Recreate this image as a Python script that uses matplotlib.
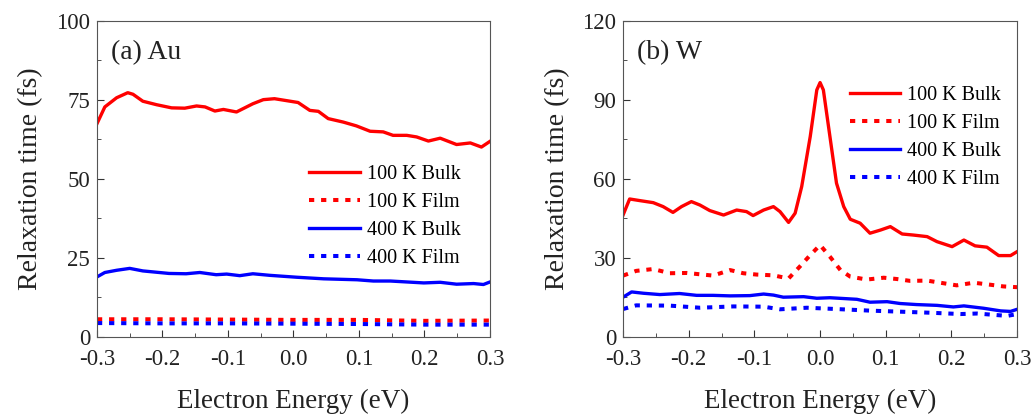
import numpy as np
import matplotlib.pyplot as plt
from matplotlib.ticker import MultipleLocator

plt.rcParams['font.family'] = ['Liberation Serif', 'DejaVu Serif']
plt.rcParams['mathtext.fontset'] = 'stix'

# ---- (a) Au ----
au_bulk100_e = [-0.3, -0.288, -0.27, -0.253, -0.245, -0.23, -0.209, -0.186, -0.166, -0.148, -0.135,
                -0.12, -0.107, -0.087, -0.062, -0.046, -0.029, -0.011, 0.007, 0.025, 0.038, 0.053,
                0.076, 0.096, 0.117, 0.137, 0.152, 0.173, 0.188, 0.206, 0.224, 0.249, 0.27, 0.287, 0.3]
au_bulk100 = [67.5, 72.8, 75.7, 77.3, 76.8, 74.6, 73.5, 72.5, 72.4, 73.1, 72.8,
              71.5, 72.0, 71.2, 73.8, 75.1, 75.4, 74.8, 74.2, 71.7, 71.4, 69.1,
              68.0, 66.8, 65.1, 64.9, 63.8, 63.8, 63.3, 62.0, 62.9, 60.9, 61.4, 60.1, 61.9]

au_bulk400_e = [-0.3, -0.288, -0.27, -0.25, -0.23, -0.19, -0.164, -0.143, -0.118, -0.102, -0.082,
                -0.062, -0.036, 0.005, 0.046, 0.097, 0.122, 0.148, 0.199, 0.224, 0.249, 0.275, 0.29, 0.3]
au_bulk400 = [19.0, 20.4, 21.1, 21.7, 20.9, 20.1, 20.0, 20.4, 19.7, 19.9, 19.4,
              20.0, 19.5, 18.9, 18.4, 18.1, 17.7, 17.7, 17.1, 17.3, 16.7, 16.9, 16.6, 17.4]

au_film_e = [-0.3, -0.2, -0.1, 0.0, 0.1, 0.2, 0.3]
au_film100 = [5.6, 5.6, 5.5, 5.4, 5.4, 5.1, 5.2]
au_film400 = [4.4, 4.3, 4.3, 4.2, 4.1, 3.9, 3.9]

# ---- (b) W ----
w_bulk100_e = [-0.3, -0.29, -0.275, -0.254, -0.239, -0.224, -0.211, -0.196, -0.183, -0.168, -0.147,
               -0.127, -0.112, -0.102, -0.086, -0.071, -0.061, -0.048, -0.038, -0.028, -0.015, -0.005,
               0.0, 0.005, 0.015, 0.025, 0.036, 0.046, 0.061, 0.076, 0.092, 0.107, 0.125, 0.142,
               0.163, 0.178, 0.201, 0.219, 0.236, 0.254, 0.272, 0.29, 0.3]
w_bulk100 = [46.3, 52.4, 51.8, 51.0, 49.5, 47.3, 49.5, 51.4, 50.1, 48.0, 46.3,
             48.2, 47.6, 46.1, 48.2, 49.5, 47.6, 43.5, 47.0, 57.1, 76.1, 93.8,
             96.6, 93.8, 76.1, 58.4, 49.5, 44.7, 43.2, 39.4, 40.6, 41.9, 39.1, 38.7,
             38.1, 36.2, 34.3, 36.8, 34.6, 34.1, 30.9, 30.9, 32.4]

w_film100_e = [-0.3, -0.28, -0.254, -0.229, -0.203, -0.183, -0.163, -0.137, -0.117, -0.097, -0.071,
               -0.048, -0.031, -0.015, 0.0, 0.015, 0.031, 0.046, 0.071, 0.097, 0.117, 0.137,
               0.163, 0.188, 0.208, 0.234, 0.254, 0.279, 0.3]
w_film100 = [23.3, 25.1, 25.8, 24.2, 24.3, 23.8, 23.3, 25.4, 24.2, 23.7, 23.4,
             22.2, 26.7, 31.1, 34.9, 30.5, 25.4, 22.9, 21.8, 22.5, 22.0, 21.3,
             21.4, 20.4, 19.6, 20.6, 20.0, 19.2, 18.9]

w_bulk400_e = [-0.3, -0.287, -0.269, -0.244, -0.214, -0.188, -0.163, -0.137, -0.107, -0.086, -0.071,
               -0.056, -0.025, -0.005, 0.015, 0.056, 0.076, 0.102, 0.122, 0.147, 0.178, 0.203,
               0.219, 0.249, 0.275, 0.29, 0.3]
w_bulk400 = [15.1, 17.1, 16.6, 16.1, 16.5, 15.8, 15.8, 15.6, 15.7, 16.3, 15.9,
             15.1, 15.3, 14.7, 14.9, 14.3, 13.2, 13.4, 12.7, 12.3, 12.0, 11.4,
             11.8, 10.9, 9.9, 9.7, 10.5]

w_film400_e = [-0.3, -0.28, -0.229, -0.183, -0.132, -0.086, -0.061, -0.02, 0.025, 0.076, 0.122,
               0.168, 0.214, 0.239, 0.285, 0.3]
w_film400 = [10.6, 12.0, 11.9, 11.1, 11.6, 11.5, 10.5, 11.1, 10.6, 10.0, 9.6,
             9.2, 8.7, 8.9, 8.0, 8.7]

labels = ['100 K Bulk', '100 K Film', '400 K Bulk', '400 K Film']

fig = plt.figure(figsize=(10.35, 4.16), dpi=100)
ax1 = fig.add_axes([0.0937, 0.19, 0.3797, 0.7596])
ax2 = fig.add_axes([0.602, 0.19, 0.3807, 0.7596])

lw = 2.4
flw = 2.9
dot = (0, (1.3, 1.7))

ax1.plot(au_bulk100_e, au_bulk100, color='red', lw=lw, label=labels[0])
ax1.plot(au_film_e, au_film100, color='red', lw=flw, ls=dot, label=labels[1])
ax1.plot(au_bulk400_e, au_bulk400, color='blue', lw=lw, label=labels[2])
ax1.plot(au_film_e, au_film400, color='blue', lw=flw, ls=dot, label=labels[3])

ax2.plot(w_bulk100_e, w_bulk100, color='red', lw=lw, label=labels[0])
ax2.plot(w_film100_e, w_film100, color='red', lw=flw, ls=dot, label=labels[1])
ax2.plot(w_bulk400_e, w_bulk400, color='blue', lw=lw, label=labels[2])
ax2.plot(w_film400_e, w_film400, color='blue', lw=flw, ls=dot, label=labels[3])

ax1.set_ylim(0, 100)
ax1.yaxis.set_major_locator(MultipleLocator(25))
ax1.yaxis.set_minor_locator(MultipleLocator(12.5))
ax2.set_ylim(0, 120)
ax2.yaxis.set_major_locator(MultipleLocator(30))
ax2.yaxis.set_minor_locator(MultipleLocator(15))

for ax in (ax1, ax2):
    ax.set_xlim(-0.3, 0.3)
    ax.xaxis.set_major_locator(MultipleLocator(0.1))
    ax.xaxis.set_minor_locator(MultipleLocator(0.05))
    ax.tick_params(which='both', direction='in', top=False, right=False, labelsize=16.5,
                   color='#333333', labelcolor='#222222')
    ax.tick_params(which='major', length=5)
    ax.tick_params(which='minor', length=3)
    ax.tick_params(axis='x', pad=9)
    ax.tick_params(axis='y', pad=5)
    ax.set_xlabel('Electron Energy (eV)', fontsize=19.5, labelpad=13, color='#222222')
    ax.set_ylabel('Relaxation time (fs)', fontsize=20, labelpad=9, color='#222222')
    for s in ax.spines.values():
        s.set_color('#555555')
    ax.xaxis.set_major_formatter(plt.FuncFormatter(lambda v, p: '0.0' if abs(v) < 1e-9 else f'{v:.1f}'))

ax1.text(0.035, 0.9, '(a) Au', transform=ax1.transAxes, fontsize=20, va='center', color='#222222')
ax2.text(0.035, 0.9, '(b) W', transform=ax2.transAxes, fontsize=20, va='center', color='#222222')

leg_kw = dict(frameon=False, fontsize=14.5, handlelength=2.5, handletextpad=0.35,
              labelspacing=0.45, borderaxespad=0)
ax1.legend(loc='upper left', bbox_to_anchor=(0.52, 0.57), **leg_kw)
ax2.legend(loc='upper left', bbox_to_anchor=(0.555, 0.82), **leg_kw)

fig.savefig('out.png', dpi=100)
